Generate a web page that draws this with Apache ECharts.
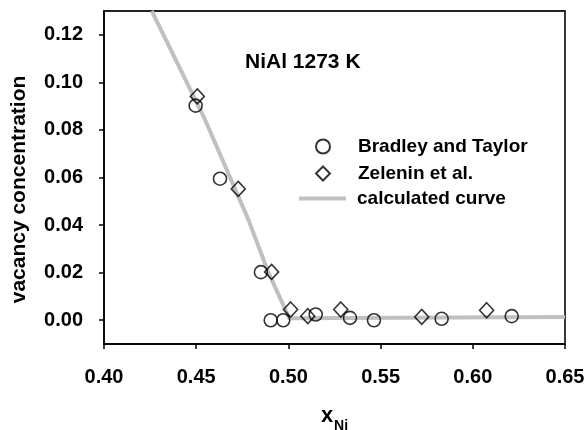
<!DOCTYPE html>
<html>
<head>
<meta charset="utf-8">
<script src="https://cdn.jsdelivr.net/npm/echarts@6/dist/echarts.min.js"></script>
<style>html,body{margin:0;padding:0;background:#fff}#c{width:585px;height:430px}</style>
</head>
<body>
<div id="c"></div>
<script>
// Bradley and Taylor (circles)
const bradleyX = [0.4497, 0.4629, 0.4851, 0.4904, 0.4972, 0.5148, 0.5334, 0.5464, 0.5831, 0.6211];
const bradleyY = [0.0902, 0.0595, 0.0202, 0.0000, 0.0000, 0.0024, 0.0010, 0.0000, 0.0006, 0.0017];
// Zelenin et al. (diamonds)
const zeleninX = [0.4506, 0.4728, 0.4909, 0.5012, 0.5105, 0.5284, 0.5723, 0.6075];
const zeleninY = [0.0941, 0.0552, 0.0203, 0.0045, 0.0017, 0.0045, 0.0014, 0.0042];
// calculated curve
const curveX = [0.4259, 0.4548, 0.4783, 0.4891, 0.5005, 0.65];
const curveY = [0.130, 0.0843, 0.0423, 0.0202, 0.0008, 0.0013];
// tick labels
const xTicks = [0.40, 0.45, 0.50, 0.55, 0.60, 0.65];
const yTicks = [0.00, 0.02, 0.04, 0.06, 0.08, 0.10, 0.12];

const zip = (a, b) => a.map((v, i) => [v, b[i]]);
const FONT = '"Liberation Sans", Arial, sans-serif';
const legendText = {fontFamily: FONT, fontSize: 19, fontWeight: 'bold', color: '#000'};

const chart = echarts.init(document.getElementById('c'), null, {renderer: 'canvas'});
chart.setOption({
  animation: false,
  backgroundColor: '#fff',
  title: {
    text: 'NiAl 1273 K',
    left: 245, top: 52, padding: 0,
    textStyle: {fontFamily: FONT, fontSize: 21, fontWeight: 'bold', color: '#000'}
  },
  legend: [
    {
      orient: 'vertical', padding: 0,
      left: 315, top: 137,
      itemWidth: 14, itemHeight: 14, itemGap: 8,
      symbolKeepAspect: true,
      textStyle: Object.assign({padding: [0, 0, 0, 23]}, legendText),
      data: [
        {name: 'Bradley and Taylor', icon: 'circle'},
        {name: 'Zelenin et al.', icon: 'diamond'}
      ]
    },
    {
      orient: 'vertical', padding: 0,
      left: 299, top: 189,
      itemWidth: 47, itemHeight: 4,
      textStyle: Object.assign({padding: [0, 0, 0, 6]}, legendText),
      data: [{name: 'calculated curve', icon: 'rect', itemStyle: {color: '#c0c0c0', borderWidth: 0}}]
    }
  ],
  grid: {
    left: 104, right: 20, top: 11, bottom: 86,
    outerBoundsMode: 'none', containLabel: false,
    show: true, borderColor: '#222', borderWidth: 1.8, backgroundColor: 'transparent'
  },
  xAxis: {
    type: 'value', min: 0.40, max: 0.65, interval: 0.05,
    name: '{a|x}{b|Ni}', nameLocation: 'middle', nameGap: 61,
    nameTextStyle: {
      rich: {
        a: {fontFamily: FONT, fontSize: 22, fontWeight: 'bold', color: '#000', verticalAlign: 'bottom', lineHeight: 22},
        b: {fontFamily: FONT, fontSize: 14, fontWeight: 'bold', color: '#000', verticalAlign: 'bottom', lineHeight: 14, padding: [0, 0, -6, 1]}
      }
    },
    axisLine: {onZero: false, lineStyle: {color: '#000', width: 1.5}},
    axisTick: {show: true, length: 5, inside: false, lineStyle: {color: '#000', width: 1.5}, customValues: xTicks},
    axisLabel: {
      customValues: xTicks,
      margin: 23, fontFamily: FONT, fontSize: 20, fontWeight: 'bold', color: '#000',
      formatter: v => v.toFixed(2)
    },
    splitLine: {show: false}
  },
  yAxis: {
    type: 'value', min: -0.01, max: 0.13,
    name: 'vacancy concentration', nameLocation: 'middle', nameGap: 74, nameRotate: 90,
    nameTextStyle: {fontFamily: FONT, fontSize: 21, fontWeight: 'bold', color: '#000', padding: [0, 24, 0, 0]},
    axisLine: {onZero: false, lineStyle: {color: '#000', width: 1.5}},
    axisTick: {show: true, length: 5, lineStyle: {color: '#000', width: 1.5}, customValues: yTicks},
    axisLabel: {
      customValues: yTicks,
      margin: 21, fontFamily: FONT, fontSize: 20, fontWeight: 'bold', color: '#000',
      formatter: v => v.toFixed(2)
    },
    splitLine: {show: false}
  },
  series: [
    {
      name: 'calculated curve', type: 'line', z: 1,
      data: zip(curveX, curveY), symbol: 'none', showSymbol: false,
      lineStyle: {color: '#c0c0c0', width: 4},
      itemStyle: {color: '#c0c0c0'}
    },
    {
      name: 'Bradley and Taylor', type: 'scatter', z: 3,
      data: zip(bradleyX, bradleyY), symbol: 'circle', symbolSize: 13,
      itemStyle: {color: 'rgba(255,255,255,0)', borderColor: '#000', borderWidth: 1.6}
    },
    {
      name: 'Zelenin et al.', type: 'scatter', z: 3,
      data: zip(zeleninX, zeleninY), symbol: 'diamond', symbolSize: [14, 15],
      itemStyle: {color: 'rgba(255,255,255,0)', borderColor: '#000', borderWidth: 1.6}
    }
  ]
});
</script>
</body>
</html>
